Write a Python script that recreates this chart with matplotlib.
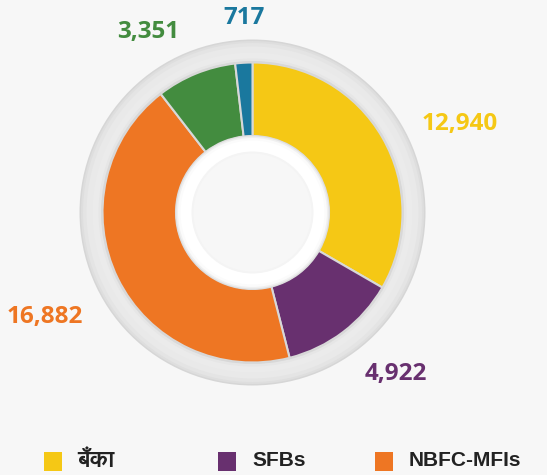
import matplotlib
matplotlib.use("Agg")
import matplotlib.pyplot as plt
import matplotlib.patheffects as pe
from matplotlib import font_manager
from matplotlib.ft2font import FT2Font
from matplotlib.patches import Circle, Rectangle

# data
values = [12940, 4922, 16882, 3351, 717]
labels = ["12,940", "4,922", "16,882", "3,351", "717"]
colors = ["#F5C815", "#68306F", "#EE7623", "#438C3F", "#1A789E"]
legend_names = ["बँका", "SFBs", "NBFC-MFIs"]

# find a font with Devanagari glyphs (prefer a bold one)
deva, deva_bold = None, False
for f in font_manager.fontManager.ttflist:
    try:
        if 0x092C in FT2Font(f.fname).get_charmap():
            w = f.weight if isinstance(f.weight, int) else 400
            if deva is None or (w >= 600 and not deva_bold):
                deva, deva_bold = f.name, w >= 600
    except Exception:
        pass

W, H = 547, 475
bg = "#f7f7f7"
fig = plt.figure(figsize=(W / 100, H / 100), dpi=100, facecolor=bg)
ax = fig.add_axes([0, 0, 1, 1])
ax.set_facecolor(bg)

cx, cy = 252.5, H - 212.5
r_out, r_in = 150, 76.5

# gray outer ring with soft shading
for r, c in [(173, "#d6d6d6"), (171.5, "#dedede"), (169.5, "#e4e4e4"), (166, "#e9e9e9"),
             (160, "#ebebeb"), (154, "#e6e6e6"), (151.5, "#dadada")]:
    ax.add_patch(Circle((cx, cy), r, color=c, lw=0))

ax.pie(values, colors=colors, startangle=90, counterclock=False,
       radius=r_out, center=(cx, cy), frame=True,
       wedgeprops=dict(width=r_out - r_in, edgecolor="#d8d8d8", linewidth=1.5))
ax.set_xlim(0, W)
ax.set_ylim(0, H)
ax.set_aspect("equal")
ax.axis("off")

# inner white ring
for r, c in [(77, "#e2e2e2"), (76, "#f0f0f0"), (74.5, "#fbfbfb"), (72, "#ffffff"),
             (61, "#f4f4f4"), (59, bg)]:
    ax.add_patch(Circle((cx, cy), r, color=c, lw=0, zorder=5))

# value labels
label_pos = [(460, 124), (396, 374), (45, 317), (148, 32), (244, 18)]
for (x, y), t, c in zip(label_pos, labels, colors):
    ax.text(x, H - y, t, color=c, fontsize=17.5, fontweight="bold",
            family=["Open Sans", "DejaVu Sans"], ha="center", va="center")

# legend
leg_x = [44, 218, 375]
fx = [deva, "DejaVu Sans"] if deva else ["DejaVu Sans"]
effects = [] if deva_bold else [pe.withStroke(linewidth=0.9, foreground="#222222")]
for x, name, c in zip(leg_x, legend_names, colors[:3]):
    ax.add_patch(Rectangle((x, H - 471), 18, 19, color=c, lw=0))
    if name.isascii():
        ax.text(x + 34, H - 461, name, color="#222222", fontsize=15, fontweight="bold",
                family=["Liberation Sans", "DejaVu Sans"], ha="left", va="center")
    else:
        ax.text(x + 33, H - 467, name, color="#222222", fontsize=17, fontweight="bold",
                family=fx, ha="left", va="baseline", path_effects=effects)

fig.savefig("out.png", dpi=100, facecolor=bg)
